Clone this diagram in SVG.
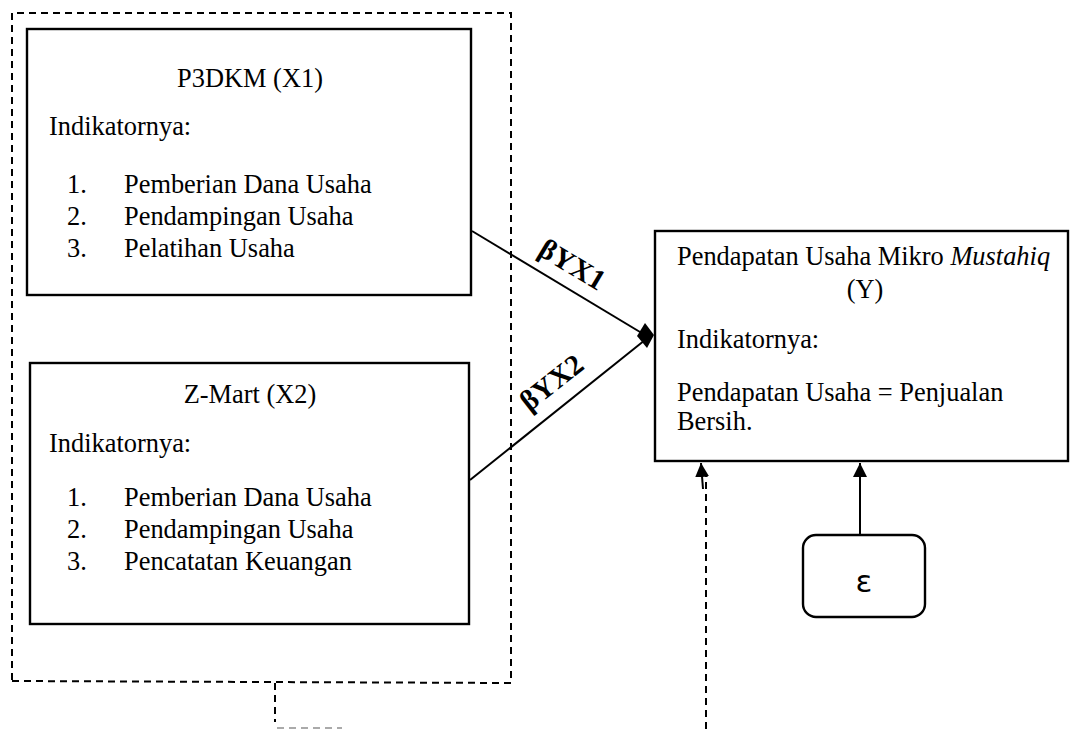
<svg xmlns="http://www.w3.org/2000/svg" width="1071" height="729" viewBox="0 0 1071 729">
<style>
.box{fill:#fff;stroke:#000;stroke-width:2.4}
.t{font-family:"Liberation Serif","Times New Roman",serif;font-size:26.4px;fill:#000}
.b{font-family:"Liberation Serif","Times New Roman",serif;font-size:29px;font-weight:bold;fill:#000}
.dash{fill:none;stroke:#000;stroke-width:2;stroke-dasharray:7 5}
.ln{fill:none;stroke:#000;stroke-width:2}
</style>
<defs>
<marker id="tri" viewBox="0 0 10 10" refX="10" refY="5" markerWidth="7" markerHeight="7" markerUnits="strokeWidth" orient="auto">
<path d="M0,0 L10,5 L0,10 z" fill="#000"/>
</marker>
</defs>
<rect width="1071" height="729" fill="#fff"/>
<g id="group-x">
<path class="dash" d="M12,680 L12,13 L511,13 L511,683 L12,681"/>
<path class="dash" d="M275,683 L275,722"/>
<path d="M277,728 L342,728" fill="none" stroke="#aaa" stroke-width="2" stroke-dasharray="7 5"/>
</g>
<g id="node-x1">
<rect class="box" x="27" y="29" width="444" height="266"/>
<text class="t" x="250" y="87" text-anchor="middle">P3DKM (X1)</text>
<text class="t" x="49" y="135">Indikatornya:</text>
<text class="t" x="67" y="193">1.</text><text class="t" x="124" y="193">Pemberian Dana Usaha</text>
<text class="t" x="67" y="225">2.</text><text class="t" x="124" y="225">Pendampingan Usaha</text>
<text class="t" x="67" y="257">3.</text><text class="t" x="124" y="257">Pelatihan Usaha</text>
</g>
<g id="node-x2">
<rect class="box" x="30" y="363" width="439" height="261"/>
<text class="t" x="250" y="403" text-anchor="middle">Z-Mart (X2)</text>
<text class="t" x="49" y="452">Indikatornya:</text>
<text class="t" x="67" y="506">1.</text><text class="t" x="124" y="506">Pemberian Dana Usaha</text>
<text class="t" x="67" y="538">2.</text><text class="t" x="124" y="538">Pendampingan Usaha</text>
<text class="t" x="67" y="570">3.</text><text class="t" x="124" y="570">Pencatatan Keuangan</text>
</g>
<g id="node-y">
<rect class="box" x="655" y="231" width="413" height="230"/>
<text class="t" x="677" y="265">Pendapatan Usaha Mikro <tspan font-style="italic">Mustahiq</tspan></text>
<text class="t" x="865" y="298" text-anchor="middle">(Y)</text>
<text class="t" x="677" y="348">Indikatornya:</text>
<text class="t" x="677" y="401">Pendapatan Usaha = Penjualan</text>
<text class="t" x="677" y="430">Bersih.</text>
</g>
<g id="node-e">
<rect class="box" x="803" y="535" width="122" height="82" rx="13"/>
<text x="864" y="592" text-anchor="middle" font-family="DejaVu Sans,sans-serif" font-size="31">ε</text>
</g>
<g id="connectors">
<line class="ln" x1="472" y1="231" x2="645" y2="335"/>
<line class="ln" x1="470" y1="480" x2="645" y2="340"/>
<polygon points="645,323 654,335 647,348 637,336" fill="#000"/>
<line class="ln" x1="860" y1="535" x2="860" y2="463" marker-end="url(#tri)"/>
<line class="ln" x1="706" y1="729" x2="706" y2="475" stroke-dasharray="7 5"/>
<line class="ln" x1="703" y1="489" x2="701" y2="463" marker-end="url(#tri)"/>
<text class="b" transform="translate(572,265) rotate(31)" text-anchor="middle" dy="9">βYX1</text>
<text class="b" transform="translate(552,383) rotate(-38)" text-anchor="middle" dy="9">βYX2</text>
</g>
</svg>
